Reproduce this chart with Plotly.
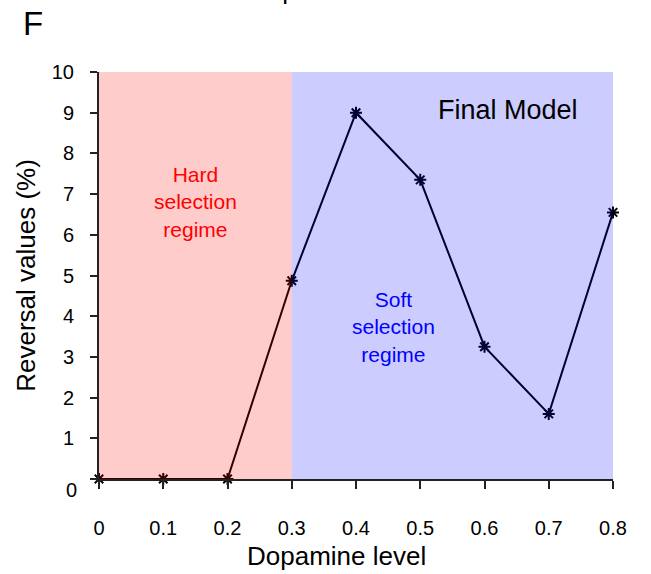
import plotly.graph_objects as go

# Reversal values across dopamine levels (final model)
dopamine = [0, 0.1, 0.2, 0.3, 0.4, 0.5, 0.6, 0.7, 0.8]
reversal = [0, 0, 0, 4.87, 9.0, 7.35, 3.25, 1.6, 6.55]

x_ticks = [0, 0.1, 0.2, 0.3, 0.4, 0.5, 0.6, 0.7, 0.8]
x_ticklabels = ["0", "0.1", "0.2", "0.3", "0.4", "0.5", "0.6", "0.7", "0.8"]
y_ticks = [0, 1, 2, 3, 4, 5, 6, 7, 8, 9, 10]
y_ticklabels = ["", "1", "2", "3", "4", "5", "6", "7", "8", "9", "10"]

hard_regime = [0, 0.3]
soft_regime = [0.3, 0.8]

FONT = "Liberation Sans, Arial, sans-serif"

fig = go.Figure()

fig.add_trace(go.Scatter(
    x=dopamine, y=reversal, mode="lines+markers",
    line=dict(color="black", width=2),
    marker=dict(symbol="asterisk-open", size=10,
                line=dict(color="black", width=2), color="black"),
    cliponaxis=False, showlegend=False,
))

# Translucent regime bands drawn over the curve
fig.add_shape(type="rect", xref="x", yref="y", layer="above",
              x0=hard_regime[0], x1=hard_regime[1], y0=0, y1=10,
              fillcolor="rgba(255,0,0,0.2)", line=dict(width=0))
fig.add_shape(type="rect", xref="x", yref="y", layer="above",
              x0=soft_regime[0], x1=soft_regime[1], y0=0, y1=10,
              fillcolor="rgba(0,0,255,0.2)", line=dict(width=0))

fig.add_annotation(x=0.15, y=6.8, xref="x", yref="y", showarrow=False,
                   text="Hard<br>selection<br>regime",
                   font=dict(family=FONT, size=21, color="#ff0000"))
fig.add_annotation(x=0.458, y=3.73, xref="x", yref="y", showarrow=False,
                   text="Soft<br>selection<br>regime",
                   font=dict(family=FONT, size=21, color="#0000ff"))
fig.add_annotation(x=0.636, y=9.07, xref="x", yref="y", showarrow=False,
                   text="Final Model",
                   font=dict(family=FONT, size=27, color="black"))

# zero label on the value axis sits below the axis line
fig.add_annotation(x=0, y=0, xref="paper", yref="y", showarrow=False,
                   text="0", xanchor="right", xshift=-20, yshift=-11,
                   font=dict(family=FONT, size=20, color="black"))

fig.add_annotation(x=-0.152, y=1.12, xref="paper", yref="paper",
                   showarrow=False, text="F", xanchor="left",
                   yanchor="middle",
                   font=dict(family=FONT, size=33, color="black"))
fig.add_annotation(x=0.465, y=1.16, xref="paper", yref="paper",
                   showarrow=False, text="Dopamine level", yanchor="bottom",
                   font=dict(family=FONT, size=26, color="black"))
# horizontal axis title
fig.add_annotation(x=0.463, y=-0.189, xref="paper", yref="paper",
                   showarrow=False, text="Dopamine level", yanchor="middle",
                   font=dict(family=FONT, size=26, color="black"))

fig.update_layout(
    width=651, height=574,
    margin=dict(l=99, r=38, t=72, b=95),
    paper_bgcolor="white", plot_bgcolor="white",
    font=dict(family=FONT, size=20, color="black"),
    xaxis=dict(range=[0, 0.8], tickvals=x_ticks, ticktext=x_ticklabels,
               showgrid=False, zeroline=False, showline=True,
               linecolor="#222222", linewidth=2, ticks="outside",
               ticklen=8, tickwidth=2, tickcolor="#222222",
               ticklabelstandoff=22, automargin=False),
    yaxis=dict(range=[0, 10], tickvals=y_ticks, ticktext=y_ticklabels,
               showgrid=False, zeroline=False, showline=True,
               linecolor="#222222", linewidth=2, ticks="outside",
               ticklen=7, tickwidth=2, tickcolor="#222222",
               ticklabelstandoff=12, automargin=False,
               title=dict(text="Reversal values (%)", standoff=9,
                          font=dict(family=FONT, size=26))),
)

fig.write_html("out.html")
